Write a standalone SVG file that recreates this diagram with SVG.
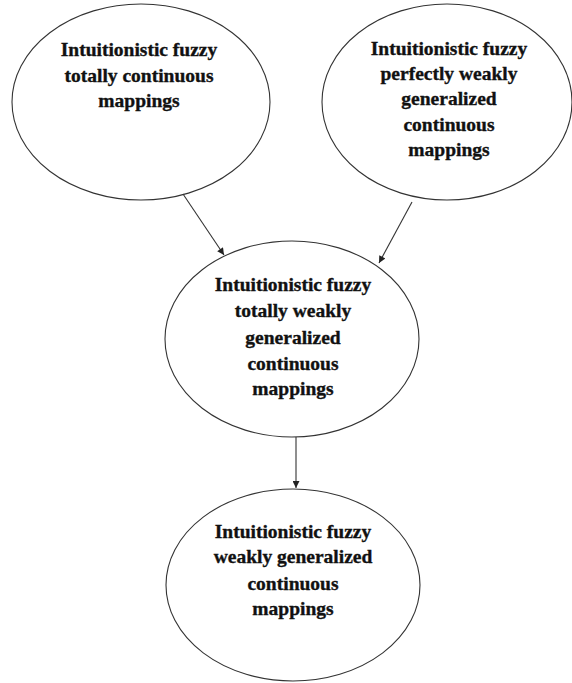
<svg xmlns="http://www.w3.org/2000/svg" width="572" height="683" viewBox="0 0 572 683">
<defs>
<style>
.node ellipse{fill:#fff;stroke:#333;stroke-width:1.1}
.node text{font-family:"Liberation Serif","Times New Roman",serif;font-weight:bold;font-size:19.5px;fill:#111;stroke:#111;stroke-width:0.35;text-anchor:middle}
.conn line{stroke:#333;stroke-width:1.1;marker-end:url(#ah)}
</style>
<marker id="ah" viewBox="0 0 10 10" refX="10" refY="5" markerWidth="9" markerHeight="7" markerUnits="userSpaceOnUse" orient="auto">
<path d="M0,0 L10,5 L0,10 z" fill="#222"/>
</marker>
</defs>
<rect width="572" height="683" fill="#fff"/>
<g id="n1" class="node">
<ellipse cx="141" cy="102" rx="129" ry="98"/>
<text x="139" y="56">Intuitionistic fuzzy</text>
<text x="139" y="82">totally continuous</text>
<text x="139" y="107">mappings</text>
</g>
<g id="n2" class="node">
<ellipse cx="447" cy="102" rx="125" ry="98"/>
<text x="449" y="55">Intuitionistic fuzzy</text>
<text x="449" y="80">perfectly weakly</text>
<text x="449" y="105">generalized</text>
<text x="449" y="131">continuous</text>
<text x="449" y="156">mappings</text>
</g>
<g id="n3" class="node">
<ellipse cx="292" cy="339" rx="127" ry="98"/>
<text x="293" y="291">Intuitionistic fuzzy</text>
<text x="293" y="317">totally weakly</text>
<text x="293" y="344">generalized</text>
<text x="293" y="370">continuous</text>
<text x="293" y="395">mappings</text>
</g>
<g id="n4" class="node">
<ellipse cx="293" cy="585" rx="127" ry="96"/>
<text x="293" y="538">Intuitionistic fuzzy</text>
<text x="293" y="563">weakly generalized</text>
<text x="293" y="590">continuous</text>
<text x="293" y="615">mappings</text>
</g>
<g id="connectors" class="conn">
<line x1="183" y1="194" x2="224" y2="255"/>
<line x1="412" y1="202" x2="379" y2="263"/>
<line x1="296" y1="437" x2="296" y2="488"/>
</g>
</svg>
